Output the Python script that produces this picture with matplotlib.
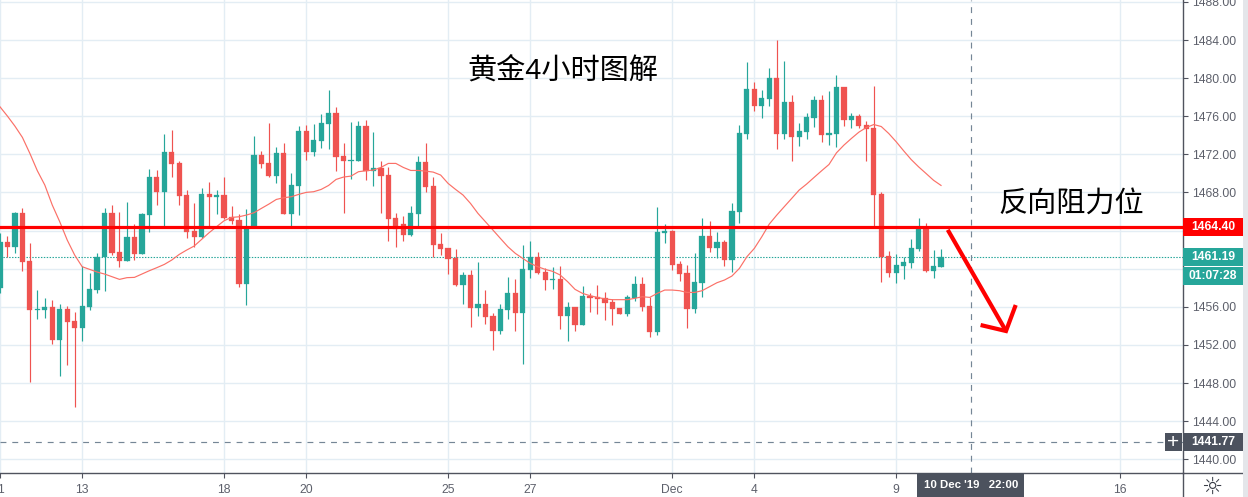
import matplotlib
matplotlib.use("Agg")
import matplotlib.pyplot as plt
from matplotlib.patches import Rectangle

plt.rcParams['font.family'] = ['Liberation Sans', 'Noto Sans CJK SC', 'DejaVu Sans']

opens = [1457.97,1462.80,1462.31,1465.84,1460.80,1455.66,1455.66,1455.98,1452.55,1455.77,1454.51,1453.81,1455.98,1457.80,1461.22,1465.84,1461.75,1460.84,1463.32,1461.57,
1465.63,1469.62,1468.08,1472.24,1471.08,1467.73,1463.95,1463.32,1467.83,1467.55,1467.73,1465.42,1465.10,1458.43,1464.30,1471.92,1471.08,1469.75,1472.13,1465.77,
1468.71,1474.44,1472.27,1473.39,1475.21,1476.33,1471.82,1471.33,1471.33,1474.96,1470.28,1470.56,1469.83,1465.31,1464.69,1463.53,1465.73,1471.19,1468.67,1462.59,
1462.17,1461.12,1458.29,1459.34,1455.87,1456.29,1455.03,1453.46,1455.66,1457.45,1455.35,1459.86,1461.22,1459.65,1458.85,1458.92,1455.03,1455.98,1454.09,1457.13,
1457.03,1456.92,1456.50,1455.87,1455.24,1456.92,1458.39,1456.08,1453.35,1463.77,1463.95,1460.48,1459.54,1455.76,1458.49,1463.42,1462.16,1462.79,1460.90,1465.94,
1474.12,1478.84,1477.06,1477.79,1480.00,1474.12,1477.48,1473.81,1474.33,1475.80,1477.69,1474.02,1474.12,1479.05,1475.59,1476.01,1475.06,1474.75,1467.83,1461.32,
1459.54,1460.27,1460.59,1462.06,1464.16,1459.75,1460.17]
closes = [1462.80,1462.31,1465.84,1460.73,1455.70,1455.73,1455.98,1452.55,1455.77,1454.44,1453.81,1456.08,1457.87,1461.22,1465.84,1461.64,1460.84,1463.32,1461.57,1465.73,
1469.62,1468.08,1472.24,1471.01,1467.66,1463.88,1463.36,1467.83,1467.52,1467.73,1465.35,1465.00,1458.43,1464.37,1471.92,1471.01,1469.75,1472.13,1465.77,1468.78,
1474.44,1472.27,1473.50,1475.28,1476.33,1471.75,1471.29,1471.40,1474.96,1470.21,1470.56,1469.72,1465.24,1464.20,1463.57,1465.84,1471.19,1468.57,1462.52,1462.06,
1461.05,1458.29,1459.34,1455.87,1456.29,1454.93,1453.46,1455.77,1457.45,1455.35,1459.97,1461.22,1459.55,1458.81,1458.92,1455.03,1455.98,1454.09,1457.13,1456.92,
1456.82,1456.40,1455.77,1455.24,1457.03,1458.39,1455.98,1453.36,1463.84,1463.95,1460.38,1459.44,1455.76,1458.60,1463.42,1462.16,1462.79,1460.90,1466.04,1474.23,
1478.84,1477.06,1477.90,1480.00,1474.12,1477.48,1473.81,1474.44,1475.90,1477.69,1474.02,1474.23,1479.05,1475.59,1476.01,1474.96,1474.65,1467.72,1461.22,1459.54,
1460.38,1460.69,1462.16,1464.16,1459.75,1460.27,1461.22]
highs = [1463.70,1463.43,1465.94,1466.36,1462.69,1457.76,1456.92,1456.71,1456.29,1456.08,1455.45,1460.28,1459.55,1461.64,1466.36,1466.68,1465.94,1466.99,1464.69,1465.84,
1470.45,1470.35,1474.13,1474.55,1471.29,1468.25,1466.89,1468.46,1469.09,1468.25,1469.62,1466.57,1465.73,1466.26,1473.92,1472.34,1475.28,1472.76,1473.18,1470.03,
1474.96,1475.07,1475.17,1476.22,1478.74,1476.96,1473.18,1475.38,1475.49,1475.59,1474.34,1471.29,1470.66,1465.84,1465.52,1466.57,1471.82,1473.18,1469.62,1463.74,
1462.17,1462.06,1459.65,1459.86,1460.70,1457.76,1455.35,1456.29,1459.13,1458.92,1462.48,1462.90,1461.75,1460.07,1460.17,1460.28,1456.50,1455.98,1458.18,1457.45,
1458.29,1457.55,1456.82,1455.87,1457.24,1459.23,1459.13,1457.03,1466.46,1464.68,1464.05,1460.80,1460.38,1461.64,1465.31,1464.99,1463.84,1463.00,1466.88,1475.07,
1481.67,1479.58,1478.74,1481.04,1483.98,1481.78,1478.21,1475.27,1476.32,1478.11,1478.21,1478.63,1480.31,1479.05,1476.32,1476.22,1475.48,1479.16,1468.04,1461.85,
1461.53,1461.22,1463.11,1465.31,1464.79,1461.95,1462.06]
lows = [1457.40,1461.19,1461.68,1459.79,1448.15,1454.72,1454.83,1452.13,1448.78,1449.89,1445.52,1452.45,1455.66,1457.45,1457.66,1461.43,1460.21,1460.84,1460.94,1461.57,
1463.88,1466.68,1464.47,1469.62,1466.68,1463.25,1462.31,1463.25,1464.41,1465.73,1465.21,1464.69,1458.08,1456.19,1464.30,1470.56,1469.62,1468.99,1465.77,1464.47,
1465.63,1471.40,1471.82,1472.66,1472.55,1470.24,1465.84,1469.44,1471.33,1469.30,1468.67,1465.84,1462.90,1462.27,1462.90,1463.43,1464.47,1468.04,1461.22,1461.43,
1459.44,1458.18,1456.29,1453.88,1455.03,1454.20,1451.47,1453.15,1454.72,1453.46,1449.99,1459.02,1459.44,1457.76,1457.87,1453.67,1452.41,1453.46,1454.09,1455.45,
1455.24,1454.62,1454.09,1455.24,1455.03,1456.61,1455.56,1452.83,1453.04,1462.69,1459.86,1458.70,1453.77,1455.35,1457.02,1461.74,1461.11,1460.27,1459.64,1464.79,
1473.60,1476.53,1475.80,1477.06,1472.55,1473.60,1471.29,1472.86,1473.60,1474.86,1473.28,1472.97,1472.76,1474.96,1474.75,1474.75,1471.29,1464.36,1458.60,1459.12,
1458.49,1458.91,1460.06,1461.85,1459.65,1459.02,1460.17]
ma = [1476.99,1476.01,1474.96,1473.78,1472.10,1470.28,1468.78,1466.68,1464.93,1463.01,1461.43,1460.21,1459.93,1459.65,1459.44,1459.16,1458.88,1459.06,1459.09,1459.44,
1459.79,1460.11,1460.45,1460.91,1461.50,1461.96,1462.38,1463.08,1463.78,1464.41,1465.03,1465.38,1465.45,1465.63,1465.87,1466.33,1466.78,1467.27,1467.45,1467.55,
1467.80,1468.01,1468.08,1468.32,1468.74,1469.37,1469.62,1469.72,1470.18,1470.28,1470.35,1470.63,1471.05,1471.05,1470.63,1470.31,1470.31,1470.24,1470.14,1469.83,
1468.95,1468.32,1467.73,1466.85,1465.80,1464.93,1464.06,1463.18,1462.31,1461.61,1461.08,1460.56,1460.21,1459.93,1459.72,1459.34,1458.64,1457.83,1457.41,1457.17,
1456.99,1456.82,1456.75,1456.75,1456.75,1456.89,1457.06,1456.99,1457.41,1457.76,1457.76,1457.69,1457.51,1457.51,1457.69,1458.11,1458.53,1458.81,1459.23,1460.03,
1461.25,1462.13,1463.35,1464.68,1465.62,1466.50,1467.37,1468.25,1468.88,1469.58,1470.27,1470.94,1472.16,1472.97,1473.67,1474.33,1474.82,1475.13,1474.92,1474.19,
1473.32,1472.37,1471.46,1470.69,1469.99,1469.28,1468.74]

price_ticks = list(range(1440, 1489, 4))
hidden_ticks = [1460, 1464]  # covered by the price tags in the reference
date_pos = [0, 11, 30, 41, 60, 71, 90, 101, 120, 150]
date_labels = ['1', '13', '18', '20', '25', '27', 'Dec', '4', '9', '16']

resistance = 1464.40
last_price = 1461.19
cross_price = 1441.77
cross_x = 130
arrow_x = [126.9, 134.7]
arrow_y = [1464.08, 1453.46]
head_x = [131.3, 134.7, 136.0]
head_y = [1454.09, 1453.46, 1456.19]

W, H = 1248, 497
UP, DOWN = '#26a69a', '#ef5350'
GRID = '#e3edf4'
AXC = '#50535e'
TXT = '#5d606b'
DARK = '#4c525e'

fig = plt.figure(figsize=(W/100, H/100), dpi=100, facecolor='white')
ax = fig.add_axes([0, 24/H, 1183/W, 473/H])
ax.set_xlim(0.02, 158.4)
ax.set_ylim(1438.56, 1488.2)
ax.set_axisbelow(True)

for s in ('top', 'left'):
    ax.spines[s].set_visible(False)
for s in ('right', 'bottom'):
    ax.spines[s].set_color(AXC)
    ax.spines[s].set_linewidth(1.0)

ax.yaxis.tick_right()
ax.set_yticks(price_ticks)
ax.set_yticklabels(['' if p in hidden_ticks else f'{p:.2f}' for p in price_ticks],
                   fontsize=8.7, color=TXT)
ax.set_xticks(date_pos)
ax.set_xticklabels(date_labels, fontsize=8.7, color=TXT)
ax.tick_params(axis='y', length=3.5, width=0.8, color=AXC, pad=3)
ax.tick_params(axis='x', length=3.5, width=0.8, color=AXC, pad=4.5)
ax.grid(True, color=GRID, linewidth=1.0)

xs = list(range(len(opens)))
cols = [UP if c >= o else DOWN for o, c in zip(opens, closes)]
ax.vlines(xs, lows, highs, colors=cols, linewidth=0.85, zorder=3)
ax.bar(xs, [abs(c - o) for o, c in zip(opens, closes)],
       bottom=[min(o, c) for o, c in zip(opens, closes)],
       width=0.7, color=cols, edgecolor=cols, linewidth=0.2, zorder=4)
ax.plot(xs, ma, color='#fb7067', linewidth=0.85, zorder=5)

ax.axhline(last_price, color=UP, linewidth=0.8, linestyle=(0, (1.3, 1.3)), zorder=2)
ax.axhline(cross_price, color='#758696', linewidth=0.85, linestyle=(0, (5, 5)), zorder=2)
ax.axvline(cross_x, color='#758696', linewidth=0.85, linestyle=(0, (5, 5)), zorder=2)
ax.axhline(resistance, color='#ff0000', linewidth=2.3, zorder=6)
ax.plot(arrow_x, arrow_y, color='#ff0000', linewidth=3.0, zorder=7, solid_capstyle='butt')
ax.plot(head_x, head_y, color='#ff0000', linewidth=3.0, zorder=7, solid_joinstyle='miter', solid_capstyle='butt')

ax.text(563/1183, 1 - 71/473, '黄金4小时图解', transform=ax.transAxes, fontsize=21,
        color='black', ha='center', va='center')
ax.text(1071/1183, 1 - 204/473, '反向阻力位', transform=ax.transAxes, fontsize=21,
        color='black', ha='center', va='center')

# price-scale side panel
rp = fig.add_axes([1183/W, 24/H, 60/W, 473/H], frameon=False)
rp.set_xlim(0, 1)
rp.set_ylim(ax.get_ylim())
rp.set_xticks([]); rp.set_yticks([])
rp.patch.set_alpha(0)
unit = 473 / (1488.2 - 1438.56)
def tag(center, label, color):
    rp.add_patch(Rectangle((0, center - 9/unit), 1, 18/unit, color=color, lw=0, zorder=3))
    rp.text(0.5, center, label, color='white', fontsize=8.7, fontweight='bold',
            ha='center', va='center', zorder=4)
tag(resistance, f'{resistance:.2f}', '#ff0000')
tag(last_price, f'{last_price:.2f}', UP)
tag(1459.24, '01:07:28', UP)
tag(cross_price, f'{cross_price:.2f}', DARK)

# crosshair plus box
ax.add_patch(Rectangle((1165/1183, 1 - 451/473), 17/1183, 18/473, transform=ax.transAxes,
                       color=DARK, lw=0, zorder=8, clip_on=False))
ax.text(1173.5/1183, 1 - 442/473, '+', transform=ax.transAxes, color='white', fontsize=15,
        ha='center', va='center', zorder=9)

# crosshair date box
tr = fig.transFigure
fig.patches.append(Rectangle((917/W, 0), 107/W, 24/H, transform=tr, color=DARK, lw=0, zorder=5))
fig.text(971/W, 12/H, "10 Dec '19   22:00", color='white', fontsize=8.2, fontweight='bold',
         ha='center', va='center', zorder=6)

# bottom rule to scale end, scale border, scrollbar and gear
fig.add_artist(plt.Line2D([1183/W, 1243/W], [24/H, 24/H], color=AXC, linewidth=1.0))
fig.add_artist(plt.Line2D([1183/W, 1183/W], [0, 24/H], color=AXC, linewidth=1.0))
fig.patches.append(Rectangle((1243/W, 0), 5/W, 1, transform=tr, color='#e4e6ea', lw=0, zorder=5))
fig.text(1212/W, 10/H, '☼', family='DejaVu Sans', color='#3a3e48', fontsize=17,
         ha='center', va='center')

fig.savefig('out.png', dpi=100, facecolor='white')
